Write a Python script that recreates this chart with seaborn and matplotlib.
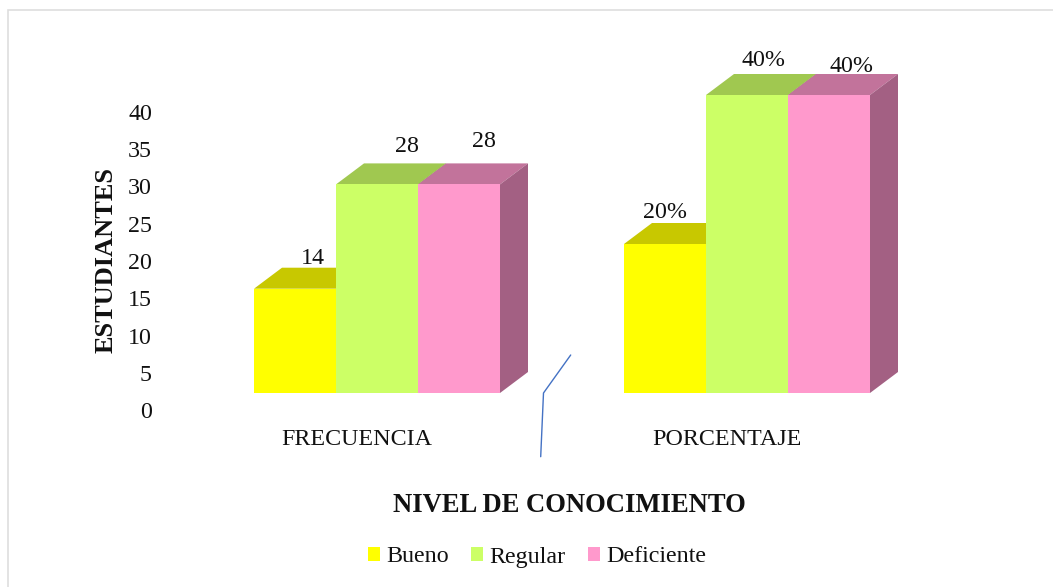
import matplotlib
matplotlib.use("Agg")
import matplotlib.pyplot as plt
from matplotlib.lines import Line2D
from matplotlib.patches import Polygon, Rectangle
from matplotlib.transforms import ScaledTranslation
import pandas as pd
import seaborn as sns

categories = ["FRECUENCIA", "PORCENTAJE"]
levels = ["Bueno", "Regular", "Deficiente"]
frecuencia = [14, 28, 28]
porcentaje = [20, 40, 40]
value_labels = ["14", "28", "28", "20%", "40%", "40%"]
yticks = [0, 5, 10, 15, 20, 25, 30, 35, 40]

front_colors = ["#FFFF00", "#CCFF66", "#FF99CC"]
top_colors = ["#C8C800", "#A0C850", "#C2739B"]
side_colors = ["#A3A300", "#83A342", "#A36083"]
label_shift_px = [(18, -30), (30, -38), (25, -43), (0, -31), (17, -34), (22, -29)]

W, H = 1053, 587
DPI = 100
sns.set_theme(style="white")
plt.rcParams["font.family"] = ["Liberation Serif", "DejaVu Serif"]
FS = 17.3

df = pd.DataFrame({
    "categoria": [c for c in categories for _ in levels],
    "nivel": levels * 2,
    "valor": frecuencia + porcentaje,
})

fig = plt.figure(figsize=(W / DPI, H / DPI), dpi=DPI, facecolor="white")
L, R, T, B = 192, 932, 57.75, 393
ax = fig.add_axes([L / W, 1 - B / H, (R - L) / W, (B - T) / H])
ax.patch.set_alpha(0)

sns.barplot(data=df, x="categoria", y="valor", hue="nivel", order=categories,
            hue_order=levels, palette=front_colors, saturation=1, width=246 / 370,
            gap=0, dodge=True, ax=ax, errorbar=None, linewidth=0, zorder=3)
ax.set_xlim(-0.5, 1.5)
ax.set_ylim(0, 45)

# 3-D extrusion derived from each seaborn bar
dx = 28 / 370
dy = 21 / 7.45
order = 3.0
bars = []
for i, cont in enumerate(ax.containers):
    for bar in cont:
        bars.append((i, bar))
bars.sort(key=lambda t: t[1].get_x())
for i, bar in bars:
    x0, w, h = bar.get_x(), bar.get_width(), bar.get_height()
    x1 = x0 + w
    bar.set_zorder(order + 0.2)
    ax.add_patch(Polygon([(x0, h), (x1, h), (x1 + dx, h + dy), (x0 + dx, h + dy)],
                         closed=True, fc=top_colors[i], ec="none", zorder=order))
    ax.add_patch(Polygon([(x1, 0), (x1 + dx, dy), (x1 + dx, h + dy), (x1, h)],
                         closed=True, fc=side_colors[i], ec="none", zorder=order + 0.1))
    order += 1

# value labels
ordered = sorted([b for _, b in bars], key=lambda b: b.get_x())
for bar, text, (sx, sy) in zip(ordered, value_labels, label_shift_px):
    ax.annotate(text, (bar.get_x() + bar.get_width() / 2, bar.get_height()),
                xytext=(sx * 72 / DPI, -sy * 72 / DPI), textcoords="offset points",
                ha="center", va="center", fontsize=FS, color="#111111",
                annotation_clip=False, zorder=50)

sns.despine(ax=ax, left=True, bottom=True)
ax.set_yticks(yticks)
ax.set_yticklabels([str(v) for v in yticks])
ax.tick_params(axis="y", length=0, pad=40 * 72 / DPI, labelsize=FS, labelcolor="#111111")
ax.tick_params(axis="x", length=0, pad=36 * 72 / DPI, labelsize=FS, labelcolor="#111111")
ax.grid(False)
y_off = ScaledTranslation(0, -17 / DPI, fig.dpi_scale_trans)
x_off = ScaledTranslation(-20 / DPI, 0, fig.dpi_scale_trans)
for lab in ax.get_yticklabels():
    lab.set_transform(lab.get_transform() + y_off)
for lab in ax.get_xticklabels():
    lab.set_transform(lab.get_transform() + x_off)

ax.set_xlabel("")
ax.set_ylabel("")
fig.text(106 / W, 1 - 260 / H, "ESTUDIANTES", rotation=90, ha="center", va="center",
         fontsize=19, fontweight="bold", color="#111111")
fig.text(569 / W, 1 - 505 / H, "NIVEL DE CONOCIMIENTO", ha="center", va="center",
         fontsize=19.2, fontweight="bold", color="#111111")

# legend
handles, labels = ax.get_legend_handles_labels()
ax.legend_.remove() if ax.legend_ else None
fig.legend(handles, labels, loc="center", bbox_to_anchor=(537 / W, 1 - 557 / H),
           ncol=3, frameon=False, fontsize=FS, handlelength=12 / 24, handleheight=12 / 24,
           handletextpad=0.25, columnspacing=0.95, borderpad=0, labelcolor="#111111")

# chart-area frame and stray connector line
fig.add_artist(Rectangle((8 / W, -0.1), 1.2, 1.1 - 9.5 / H, transform=fig.transFigure,
                         fill=False, ec="#DEDEDE", lw=1.2))
fig.add_artist(Line2D([570.7 / W, 543.5 / W, 540.7 / W],
                      [1 - 355 / H, 1 - 393 / H, 1 - 456.7 / H],
                      transform=fig.transFigure, color="#4472C4", lw=1))

fig.savefig("out.png", dpi=DPI, facecolor="white")
